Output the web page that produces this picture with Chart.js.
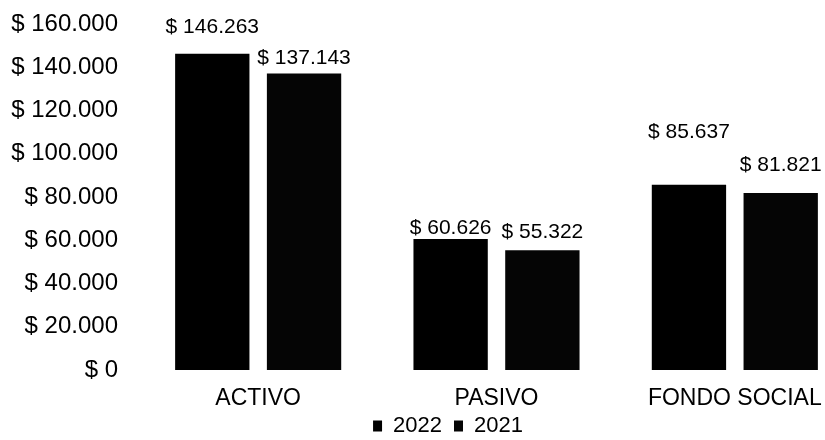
<!DOCTYPE html>
<html>
<head>
<meta charset="utf-8">
<script src="https://cdn.jsdelivr.net/npm/chart.js@4/dist/chart.umd.min.js"></script>
<style>
  html, body { margin: 0; padding: 0; background: #fff; overflow: hidden; }
  #wrap { width: 855px; height: 440px; }
</style>
</head>
<body>
<div id="wrap"><canvas id="js--chart"></canvas></div>
<script>
const categories = ["ACTIVO", "PASIVO", "FONDO SOCIAL"];
const values2022 = [146263, 60626, 85637];
const values2021 = [137143, 55322, 81821];
const seriesNames = ["2022", "2021"];

// how far above each bar its label sits (the source places them unevenly)
const labelLift = [[27, 11, 53], [15, 18, 28]];

const money = function (v) {
    return "$ " + Number(v).toLocaleString("de-DE");
};

const valueLabels = {
    id: "valueLabels",
    afterDatasetsDraw: function (chart) {
        const ctx = chart.ctx;
        ctx.save();
        ctx.font = "21px 'Liberation Sans', Arial, sans-serif";
        ctx.fillStyle = "#000";
        ctx.textAlign = "center";
        ctx.textBaseline = "middle";
        chart.data.datasets.forEach(function (ds, i) {
            chart.getDatasetMeta(i).data.forEach(function (bar, j) {
                ctx.fillText(money(ds.data[j]), bar.x, bar.y - labelLift[i][j]);
            });
        });
        ctx.restore();
    }
};

// move the legend a bit up and right without giving it more room
const legendNudge = {
    id: "legendNudge",
    afterLayout: function (chart) {
        const lg = chart.legend;
        lg.top -= 8;
        lg.bottom -= 8;
        lg.left += 16;
        lg.right += 16;
    }
};

const data = {
    labels: categories,
    datasets: [{
        label: seriesNames[0],
        data: values2022,
        backgroundColor: "#000",
        categoryPercentage: 0.77,
        barPercentage: 0.81
    }, {
        label: seriesNames[1],
        data: values2021,
        backgroundColor: "#050505",
        categoryPercentage: 0.77,
        barPercentage: 0.81
    }]
};

const config = {
    type: "bar",
    data: data,
    options: {
        responsive: true,
        maintainAspectRatio: false,
        animation: false,
        layout: { padding: { top: 24, left: 10, right: 1, bottom: 0 } },
        scales: {
            x: {
                grid: { display: false, drawTicks: false },
                border: { display: false },
                afterFit: function (scale) { scale.height = 41; },
                ticks: {
                    color: "#000",
                    padding: 15,
                    font: { family: "'Liberation Sans', Arial", size: 23 }
                }
            },
            y: {
                min: 0,
                max: 160000,
                grid: { display: false, drawTicks: false },
                border: { display: false },
                afterFit: function (scale) {
                    scale.width = 129;
                    scale.paddingTop = 0;
                    scale.paddingBottom = 0;
                },
                ticks: {
                    stepSize: 20000,
                    color: "#000",
                    padding: 21,
                    font: { family: "'Liberation Sans', Arial", size: 24 },
                    callback: function (v) { return money(v); }
                }
            }
        },
        plugins: {
            tooltip: { enabled: false },
            legend: {
                position: "bottom",
                maxHeight: 29,
                labels: {
                    color: "#000",
                    boxWidth: 9,
                    boxHeight: 11,
                    padding: 12,
                    font: { family: "'Liberation Sans', Arial", size: 22 }
                }
            }
        }
    },
    plugins: [valueLabels, legendNudge]
};

new Chart(document.getElementById("js--chart"), config);
</script>
</body>
</html>
